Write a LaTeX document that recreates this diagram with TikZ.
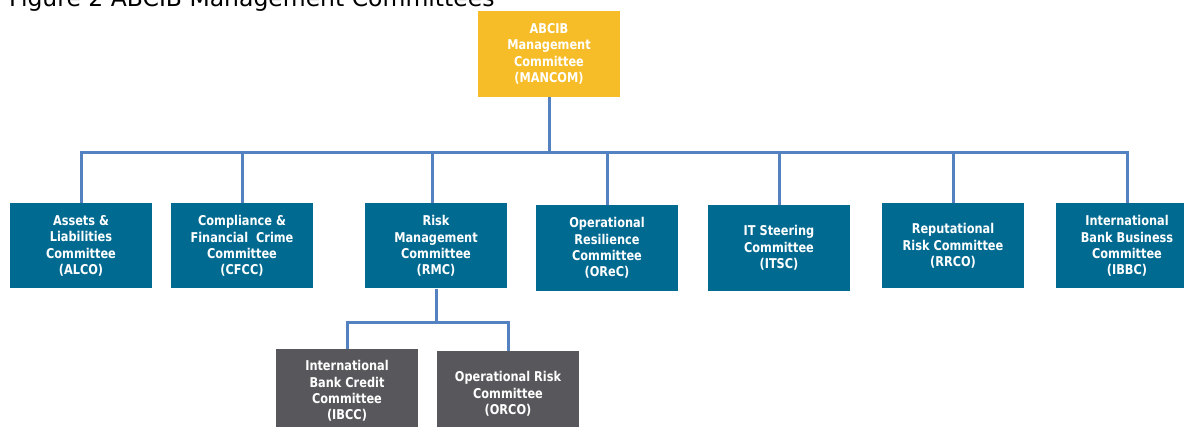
\documentclass[tikz,border=0pt]{standalone}
\usepackage{fontspec}
\setmainfont{DejaVu Sans}[FakeStretch=0.84]
\newfontfamily\titlefont{DejaVu Sans}
\usepackage{tikz}

\definecolor{mancomyellow}{RGB}{246,189,40}
\definecolor{committeeblue}{RGB}{0,106,145}
\definecolor{subgray}{RGB}{88,87,91}
\definecolor{linkblue}{RGB}{84,130,192}

\begin{document}
\begin{tikzpicture}[x=1pt, y=-1pt,
  box/.style={fill=committeeblue, text=white, align=center, inner sep=0pt,
    minimum width=142pt, minimum height=85pt,
    font=\bfseries\fontsize{13.5}{16.3}\selectfont},
  topbox/.style={box, fill=mancomyellow},
  subbox/.style={box, fill=subgray},
  link/.style={draw=linkblue, line width=3pt}]
  \useasboundingbox (0, 0) rectangle (1184, 427);
  \node[anchor=base west, inner sep=0pt, font=\titlefont\fontsize{23.5}{28}\selectfont] (title) at (9, 7) {Figure 2 ABCIB Management Committees};
  % top and first row
  \node[topbox, minimum height=86pt] (mancom) at (549, 54) {ABCIB\\Management\\Committee\\(MANCOM)};
  \node[box] (alco) at (81, 246) {Assets \&\\Liabilities\\Committee\\(ALCO)};
  \node[box] (cfcc) at (242, 246) {Compliance \&\\Financial\ \ Crime\\Committee\\(CFCC)};
  \node[box] (rmc)  at (436, 246) {Risk\\Management\\Committee\\(RMC)};
  \node[box, minimum height=86pt] (orec) at (607, 248) {Operational\\Resilience\\Committee\\(OReC)};
  \node[box, minimum height=86pt] (itsc) at (779, 248) {IT Steering\\Committee\\(ITSC)};
  \node[box] (rrco) at (953, 246) {Reputational\\Risk Committee\\(RRCO)};
  \node[box] (ibbc) at (1127, 246) {International\\Bank Business\\Committee\\(IBBC)};
  % under RMC
  \node[subbox, minimum height=84pt] (ibcc) at (347, 391) {International\\Bank Credit\\Committee\\(IBCC)};
  \node[subbox, minimum height=86pt] (orco) at (508, 394) {Operational Risk\\Committee\\(ORCO)};
  \coordinate (bus) at (549, 153);
  \coordinate (subbus) at (437, 323);
  \draw[link] (mancom.south) -- (bus);
  \draw[link] (alco.north) |- (ibbc.north |- bus) -- (ibbc.north);
  \foreach \c in {cfcc, orec, itsc, rrco}
    \draw[link] (\c.north) -- (\c.north |- bus);
  \draw[link] ([xshift=-4pt]rmc.north) -- ([xshift=-4pt]rmc.north |- bus);
  \draw[link] (rmc.south) -- (rmc.south |- subbus);
  \draw[link] (ibcc.north) |- (orco.north |- subbus) -- (orco.north);
\end{tikzpicture}
\end{document}
